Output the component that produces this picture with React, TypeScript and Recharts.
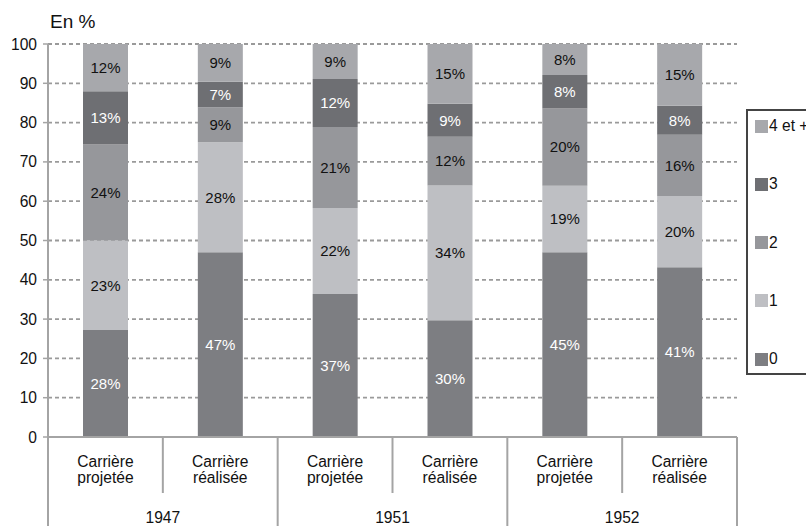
import React from 'react';
import { BarChart, Bar, XAxis, YAxis, CartesianGrid, Legend, LabelList } from 'recharts';

const categories = ['Carrière projetée', 'Carrière réalisée', 'Carrière projetée', 'Carrière réalisée', 'Carrière projetée', 'Carrière réalisée'];
const years = ['1947', '1951', '1952'];
const seriesNames = ['0', '1', '2', '3', '4 et +'];

const v0 = [27.2, 47.0, 36.4, 29.7, 47.0, 43.2];
const v1 = [22.8, 28.0, 21.9, 34.3, 16.9, 18.1];
const v2 = [24.4, 8.9, 20.6, 12.4, 19.7, 15.6];
const v3 = [13.6, 6.5, 12.2, 8.4, 8.5, 7.4];
const v4 = [12.0, 9.6, 8.9, 15.2, 7.9, 15.7];

const l0 = ['28%', '47%', '37%', '30%', '45%', '41%'];
const l1 = ['23%', '28%', '22%', '34%', '19%', '20%'];
const l2 = ['24%', '9%', '21%', '12%', '20%', '16%'];
const l3 = ['13%', '7%', '12%', '9%', '8%', '8%'];
const l4 = ['12%', '9%', '9%', '15%', '8%', '15%'];

const yTicks = [0, 10, 20, 30, 40, 50, 60, 70, 80, 90, 100];

const colors = ['#7d7e82', '#bebfc3', '#96979b', '#6e6f73', '#a7a8ac'];
const labelColors = ['#ffffff', '#111111', '#111111', '#ffffff', '#111111'];

const values = [v0, v1, v2, v3, v4];
const labels = [l0, l1, l2, l3, l4];

const data = categories.map((cat, i) => {
  const row: any = { cat };
  values.forEach((arr, k) => {
    row['s' + k] = arr[i];
    row['l' + k] = labels[k][i];
  });
  return row;
});

const W = 806;
const H = 526;
const ML = 48;
const MR = 69;
const MT = 44;
const XH = 89;
const BAND = (W - ML - MR) / categories.length;
const FONT = '"Liberation Sans", Arial, Helvetica, sans-serif';
const AXIS = '#a4a4a4';
const FS = 15.6;

const CatTick = (props: any) => {
  const { x, y, payload } = props;
  const i = payload?.index ?? props.index ?? 0;
  const parts = String(payload.value).split(' ');
  const half = BAND / 2;
  return (
    <g>
      {i === 0 && <line x1={x - half} x2={x - half} y1={y} y2={H} stroke={AXIS} strokeWidth={2} />}
      <line x1={x + half} x2={x + half} y1={y} y2={i % 2 === 0 ? y + 56 : H} stroke={AXIS} strokeWidth={2} />
      <text x={x} y={y + 30} textAnchor="middle" fontSize={FS} fill="#111" fontFamily={FONT}>{parts[0]}</text>
      <text x={x} y={y + 46} textAnchor="middle" fontSize={FS} fill="#111" fontFamily={FONT}>{parts[1]}</text>
      {i % 2 === 1 && (
        <text x={x - half} y={y + 86} textAnchor="middle" fontSize={FS} fill="#111" fontFamily={FONT}>
          {years[(i - 1) / 2]}
        </text>
      )}
    </g>
  );
};

const LegendBox = () => {
  const order = [4, 3, 2, 1, 0];
  return (
    <div style={{ position: 'relative', width: 80, height: 266, border: '2px solid #444', boxSizing: 'border-box', background: '#fff', fontFamily: FONT }}>
      {order.map((k, j) => (
        <div key={k} style={{ position: 'absolute', left: 7, top: 16 + j * 58.3 - 10, height: 18, display: 'flex', alignItems: 'center', whiteSpace: 'nowrap' }}>
          <span style={{ display: 'inline-block', width: 13, height: 13, background: colors[k], marginRight: 1 }} />
          <span style={{ fontSize: FS, color: '#111', lineHeight: '18px' }}>{seriesNames[k]}</span>
        </div>
      ))}
    </div>
  );
};

export default function App() {
  return (
    <div style={{ position: 'absolute', left: 0, top: 0, width: W, height: H, background: '#fff', overflow: 'hidden', fontFamily: FONT }}>
      <div style={{ position: 'absolute', left: 50, top: 11, fontSize: 19, lineHeight: '22px', color: '#111' }}>En %</div>
      <BarChart width={W} height={H} data={data} margin={{ top: MT, right: MR, left: 0, bottom: 0 }}>
        <CartesianGrid vertical={false} stroke="#9a9a9a" strokeDasharray="4 3" strokeWidth={1.8} />
        <XAxis
          dataKey="cat"
          height={XH}
          interval={0}
          tickLine={false}
          tickSize={0}
          tickMargin={0}
          axisLine={{ stroke: AXIS, strokeWidth: 2 }}
          tick={<CatTick />}
        />
        <YAxis
          width={ML}
          domain={[0, 100]}
          ticks={yTicks}
          interval={0}
          tickSize={5}
          tickMargin={6}
          axisLine={{ stroke: AXIS, strokeWidth: 2 }}
          tickLine={{ stroke: AXIS, strokeWidth: 1.5 }}
          tick={{ fill: '#111', fontSize: FS, fontFamily: FONT }}
        />
        <Legend
          layout="vertical"
          align="center"
          verticalAlign="middle"
          content={<LegendBox />}
          wrapperStyle={{ position: 'absolute', left: 746, top: 109, width: 80, height: 266 }}
        />
        {seriesNames.map((name, k) => (
          <Bar key={k} dataKey={'s' + k} name={name} stackId="a" fill={colors[k]} barSize={45} isAnimationActive={false}>
            <LabelList dataKey={'l' + k} position="center" fill={labelColors[k]} fontSize={15} fontFamily={FONT} />
          </Bar>
        ))}
      </BarChart>
    </div>
  );
}
